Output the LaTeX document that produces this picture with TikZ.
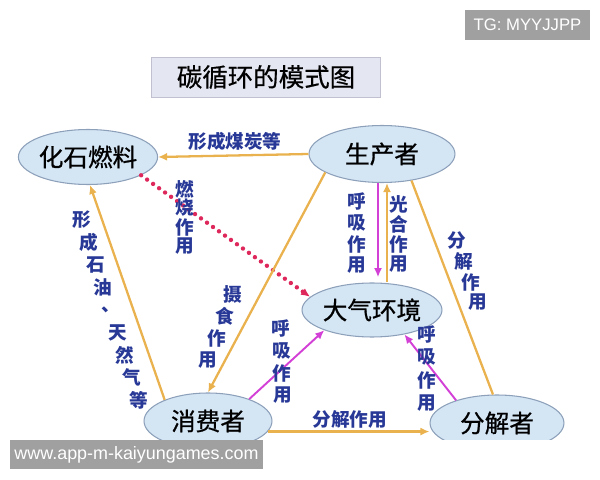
\documentclass[tikz,border=0pt]{standalone}
\usepackage{fontspec}
\setmainfont{Noto Sans CJK SC}
\newfontfamily\poolfont{Noto Sans CJK SC}[FakeBold=0.7]
\newfontfamily\wmfont{Liberation Sans}
\usepackage{xcolor}
\usepackage{tikz}
\usetikzlibrary{arrows.meta,calc,shapes.geometric}

\definecolor{poolfill}{RGB}{212,229,244}
\definecolor{poolline}{RGB}{140,160,186}
\definecolor{flowor}{RGB}{234,178,78}
\definecolor{respmag}{RGB}{210,64,214}
\definecolor{burnred}{RGB}{222,40,92}
\definecolor{lblblue}{RGB}{40,56,150}
\definecolor{titlefill}{RGB}{228,230,241}
\definecolor{titleline}{RGB}{192,192,208}
\definecolor{wmgray}{RGB}{160,160,160}

\begin{document}
\begin{tikzpicture}[x=0.02cm,y=-0.02cm,>={Latex[length=1.8mm,width=1.6mm]},
    pool/.style={ellipse, draw=poolline, line width=0.6pt, fill=poolfill, inner sep=0pt, font=\poolfont\fontsize{14}{16}\selectfont\addfontfeature{FakeBold=0.7}},
    lbl/.style={font=\fontsize{10.6}{12}\selectfont\bfseries, text=lblblue, inner sep=0pt},
    flow/.style={draw=flowor, line width=1.3pt},
    resp/.style={->, draw=respmag, line width=1.1pt},
    burn/.style={->, draw=burnred, line width=2.5pt, dash pattern=on 0pt off 4.2pt, line cap=round},
    wm/.style={fill=wmgray, text=white, inner sep=0pt}]
  \useasboundingbox (0,0) rectangle (600,480);
  \begin{scope}
  \clip (0,0) rectangle (600,440);
  % ---------- title ----------
  \node[draw=titleline, fill=titlefill, minimum width=4.58cm, minimum height=0.8cm, font=\poolfont\fontsize{14.5}{16}\selectfont\addfontfeature{FakeBold=0.5}] (title) at (266,77) {碳循环的模式图};
  % ---------- pools ----------
  \node[pool, minimum width=2.7cm, minimum height=1.1cm]  (fossil)   at (88,157)  {化石燃料};
  \node[pool, minimum width=2.92cm, minimum height=1.14cm] (producer) at (382,154) {生产者};
  \node[pool, minimum width=2.8cm, minimum height=1.08cm]  (atmos)    at (372,310) {大气环境};
  \node[pool, minimum width=2.56cm, minimum height=1.12cm] (consumer) at (208,421) {消费者};
  \node[pool, minimum width=2.68cm, minimum height=1.12cm] (decomp)   at (497,423) {分解者};
  % ---------- flows ----------
  \draw[flow,->] (producer.west) -- (fossil.east);
  \node[lbl] (coal) at (235,141) {形成煤炭等};
  \draw[burn] (fossil.-19) -- (atmos.168);
  \draw[flow,->] (consumer.154) -- (fossil.-86);
  \draw[flow,->] (producer.-162) -- (consumer.north);
  \draw[flow] (producer.-42) -- (decomp.98);
  \coordinate (exhale) at ($(producer.south)+(-4,0)$);
  \coordinate (inhale) at ($(producer.south)+(5,0)$);
  \draw[resp, shorten >=3pt] (exhale) -- (exhale |- atmos.north);
  \draw[flow,->] (inhale |- atmos.north) -- (inhale);
  \draw[resp] (consumer.28) -- (atmos.-157);
  \draw[resp] (decomp.151) -- (atmos.-37);
  \draw[flow,->] (consumer.-10) -- (consumer.-10 -| decomp.west);
  \node[lbl] (rot) at (350,419) {分解作用};
  % ---------- upright labels along lines ----------
  \foreach \ch [count=\i from 0] in {燃,烧,作,用}
    \node[lbl] (burnlbl\i) at (185,{189+19*\i}) {\ch};
  \foreach \ch [count=\i from 0] in {形,成,石,油,、,天,然,气,等}
    \node[lbl] (oillbl\i) at ({82+7.1*\i},{220+22.5*\i}) {\ch};
  \foreach \ch [count=\i from 0] in {摄,食,作,用}
    \node[lbl] (eatlbl\i) at ({233-8.3*\i},{294+22*\i}) {\ch};
  \foreach \ch [count=\i from 0] in {呼,吸,作,用}
    \node[lbl] (prodresp\i) at (357,{201+21.5*\i}) {\ch};
  \foreach \ch [count=\i from 0] in {光,合,作,用}
    \node[lbl] (photo\i) at (399,{204+20*\i}) {\ch};
  \foreach \ch [count=\i from 0] in {呼,吸,作,用}
    \node[lbl] (consresp\i) at ({281+0.5*\i},{328+22.5*\i}) {\ch};
  \foreach \ch [count=\i from 0] in {呼,吸,作,用}
    \node[lbl] (decresp\i) at (427,{334+23*\i}) {\ch};
  \foreach \ch [count=\i from 0] in {分,解,作,用}
    \node[lbl] (decomplbl\i) at ({457+7*\i},{241+20.5*\i}) {\ch};
  \end{scope}
  % ---------- marks ----------
  \node[wm, minimum width=2.5cm, minimum height=0.6cm, font=\wmfont\fontsize{9.5}{11}\selectfont] (tg) at (527.5,25) {TG: MYYJJPP};
  \node[wm, minimum width=5.06cm, minimum height=0.58cm, font=\wmfont\fontsize{10.2}{12}\selectfont] (site) at (136.5,454.5) {www.app-m-kaiyungames.com};
\end{tikzpicture}
\end{document}
